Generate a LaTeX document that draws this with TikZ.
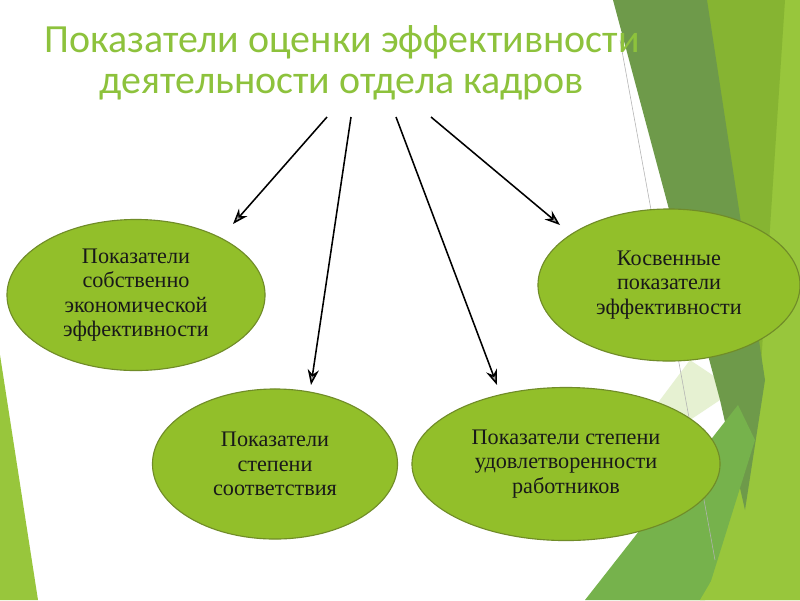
\documentclass[tikz,border=0pt]{standalone}
\usepackage{fontspec}
\setmainfont{Liberation Serif}
\newfontfamily\titlefont{Carlito}
\usepackage{tikz}
\usetikzlibrary{shapes.geometric, arrows.meta}
\definecolor{titlegreen}{RGB}{141,194,60}
\definecolor{ovalfill}{RGB}{146,191,42}
\definecolor{ovaldraw}{RGB}{112,140,40}
\definecolor{bgdark}{RGB}{110,154,74}
\definecolor{bgmid}{RGB}{134,180,50}
\definecolor{bglight}{RGB}{152,198,60}
\definecolor{bggrass}{RGB}{118,178,76}
\definecolor{bgpale}{RGB}{214,232,180}
\begin{document}
\begin{tikzpicture}[x=0.025cm, y=-0.025cm,
    oval/.style={ellipse, draw=ovaldraw, fill=ovalfill, line width=0.8pt, inner sep=0pt,
      align=center, font=\fontsize{15.8}{17.3}\selectfont, text=black!90},
    link/.style={line width=1.1pt, -{Stealth[length=11pt, width=8pt, fill=gray!70]}}]
  \useasboundingbox (0,0) rectangle (800,600);
  \fill[white] (0,0) rectangle (800,600);
  \fill[bglight] (740,0) -- (800,0) -- (800,600) -- (620,600) -- (760,380) -- cycle;
  \fill[bgmid] (700,0) -- (785,0) -- (760,380) -- cycle;
  \fill[bgpale, opacity=0.6] (600,480) -- (690,360) -- (735,390) -- cycle;
  \fill[bgdark] (613,0) -- (707,0) -- (765,380) -- (745,510) -- (720,400) -- cycle;
  \fill[bggrass] (585,600) -- (738,405) -- (755,440) -- (705,600) -- cycle;
  \fill[bglight] (700,600) -- (800,430) -- (800,600) -- cycle;
  \fill[bglight] (0,355) -- (38,600) -- (0,600) -- cycle;
  \draw[gray!60, line width=0.4pt] (620,40) -- (715,560);
  \node[align=center, text=titlegreen, font=\titlefont\fontsize{28.4}{28.8}\selectfont] (title) at (342,63)
    {Показатели оценки эффективности\\деятельности отдела кадров};
  \node[oval, minimum width=6.45cm, minimum height=3.775cm] (econ) at (136,295)
    {Показатели\\собственно\\экономической\\эффективности};
  \node[oval, minimum width=6.125cm, minimum height=3.75cm] (match) at (275,464)
    {Показатели\\степени\\соответствия};
  \node[oval, minimum width=7.7cm, minimum height=3.825cm] (satisf) at (566,464)
    {Показатели степени\\удовлетворенности\\работников};
  \node[oval, minimum width=6.55cm, minimum height=3.8cm] (indirect) at (669,285)
    {Косвенные\\показатели\\эффективности};
  \coordinate (s1) at (327,117);
  \coordinate (s2) at (351,117);
  \coordinate (s3) at (396,117);
  \coordinate (s4) at (431,117);
  \coordinate (e1) at (233,224);
  \coordinate (e2) at (311,385);
  \coordinate (e3) at (497,385);
  \coordinate (e4) at (560,225);
  \draw[link] (s1) -- (e1);
  \draw[link] (s2) -- (e2);
  \draw[link] (s3) -- (e3);
  \draw[link] (s4) -- (e4);
\end{tikzpicture}
\end{document}
